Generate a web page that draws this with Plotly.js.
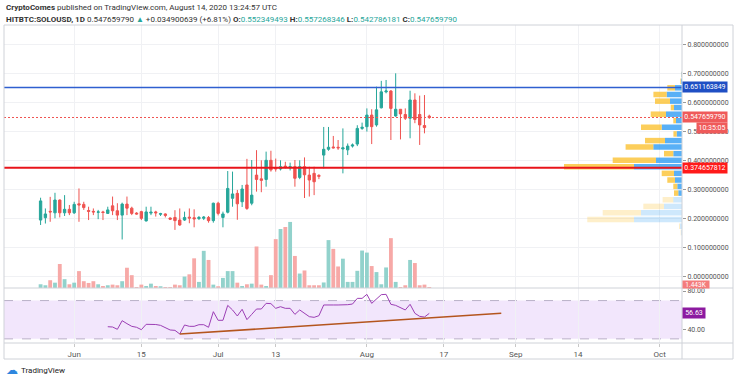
<!DOCTYPE html>
<html><head><meta charset="utf-8">
<script src="https://cdn.plot.ly/plotly-3.0.1.min.js"></script>
<style>html,body{margin:0;padding:0;background:#fff;overflow:hidden}#chart{width:736px;height:380px}</style>
</head><body><div id="chart"></div>
<script>
// ---- data ----
const START_DATE = '2020-05-25';
const openP  = [0.194,0.202,0.224,0.219,0.263,0.219,0.231,0.219,0.250,0.248,0.227,0.224,0.221,0.222,0.217,0.243,0.226,0.211,0.249,0.235,0.218,0.223,0.191,0.218,0.222,0.214,0.215,0.201,0.203,0.194,0.194,0.204,0.202,0.199,0.200,0.203,0.192,0.252,0.203,0.221,0.269,0.286,0.257,0.315,0.252,0.349,0.336,0.334,0.400,0.375,0.370,0.380,0.374,0.378,0.341,0.378,0.349,0.355,0.348,0.418,0.438,0.446,0.445,0.439,0.436,0.449,0.456,0.510,0.516,0.556,0.522,0.581,0.636,0.639,0.553,0.576,0.558,0.545,0.608,0.558,0.520,0.552349493];
const highP  = [0.271,0.234,0.274,0.288,0.265,0.280,0.246,0.257,0.303,0.257,0.240,0.234,0.229,0.226,0.240,0.275,0.252,0.254,0.275,0.240,0.221,0.226,0.240,0.240,0.226,0.219,0.217,0.203,0.228,0.234,0.223,0.234,0.231,0.208,0.208,0.208,0.254,0.257,0.223,0.363,0.361,0.298,0.315,0.405,0.401,0.435,0.400,0.430,0.433,0.406,0.400,0.395,0.392,0.401,0.400,0.410,0.378,0.378,0.352,0.515,0.515,0.484,0.470,0.510,0.458,0.458,0.521,0.530,0.579,0.576,0.654,0.674,0.677,0.642,0.700,0.576,0.579,0.640,0.631,0.623,0.625,0.557268346];
const lowP   = [0.177,0.182,0.188,0.200,0.203,0.208,0.211,0.215,0.188,0.229,0.194,0.211,0.197,0.194,0.215,0.211,0.194,0.127,0.211,0.211,0.213,0.194,0.189,0.211,0.206,0.208,0.203,0.194,0.160,0.174,0.191,0.183,0.169,0.194,0.194,0.185,0.185,0.210,0.169,0.217,0.240,0.195,0.239,0.229,0.245,0.292,0.290,0.309,0.361,0.361,0.365,0.372,0.365,0.309,0.335,0.270,0.275,0.280,0.335,0.372,0.433,0.441,0.436,0.355,0.418,0.444,0.449,0.505,0.499,0.456,0.516,0.579,0.631,0.470,0.550,0.472,0.539,0.476,0.528,0.453,0.493,0.542786181];
const closeP = [0.260,0.215,0.222,0.263,0.219,0.231,0.219,0.248,0.246,0.237,0.224,0.222,0.222,0.220,0.229,0.226,0.211,0.249,0.235,0.217,0.215,0.200,0.222,0.221,0.219,0.216,0.210,0.197,0.192,0.177,0.203,0.201,0.198,0.203,0.204,0.192,0.252,0.217,0.215,0.303,0.284,0.250,0.301,0.234,0.280,0.334,0.331,0.400,0.367,0.370,0.378,0.376,0.378,0.338,0.378,0.350,0.332,0.326,0.345,0.438,0.445,0.443,0.443,0.443,0.449,0.453,0.510,0.514,0.556,0.516,0.574,0.636,0.639,0.579,0.576,0.560,0.545,0.608,0.541,0.522,0.5128,0.547659790];
const volumeK = [5.3,3.9,11.1,7.6,34.2,12.6,5.3,7.6,24.1,9.7,7.2,9.7,5.3,2.9,3.9,4.8,3.9,9.7,28.9,18.3,1.4,4.8,2.9,6.2,2.9,2.5,1.4,1.4,4.8,3.9,16.3,19.5,42.3,8.7,53.0,40.0,4.8,2.5,14.4,24.1,24.1,7.6,2.9,5.3,6.2,59.2,4.8,2.9,18.3,69.7,84.1,87.0,94.2,45.7,20.6,25.0,3.9,3.9,3.9,7.9,68.3,55.8,30.7,41.8,8.7,8.7,24.5,53.4,50.5,31.3,22.7,5.3,29.3,71.1,8.7,1.4,3.9,40.0,35.6,3.9,4.8,1.443];
const RSI_START = '2020-06-08';
const rsiValues = [42.7,42.4,40.0,49.0,45.9,43.1,42.1,39.6,45.2,45.2,45.0,44.1,42.1,39.3,38.9,35.1,44.5,43.1,43.1,44.8,44.8,42.1,58.4,49.4,49.4,65.0,60.2,53.9,60.9,50.1,55.6,61.2,61.2,67.1,66.8,61.9,63.6,61.9,61.9,55.6,60.2,56.7,53.2,52.5,54.2,65.4,65.7,65.4,65.4,65.2,65.7,66.4,72.3,72.3,76.5,67.1,71.6,76.2,76.5,66.1,65.0,62.6,60.2,66.1,56.7,53.5,52.8,56.63];
const rsiTrendDates = ['2020-06-23','2020-08-29'];
const rsiTrendValues = [35.1, 56.7];
const vpPrices = [0.696,0.673,0.650,0.627,0.604,0.582,0.559,0.537,0.514,0.491,0.468,0.446,0.423,0.400,0.378,0.355,0.332,0.310,0.287,0.264,0.241,0.219,0.196,0.173,0.151];
const vpUp     = [0.5,1,7,15.3,12,8,16,6,20.3,5.3,17,28.7,8.7,26,48,8,7,4.7,3.7,8.7,18,41,48,2,0.8];
const vpDown   = [0.3,0.6,7.7,13.3,15,3.3,15.3,2.7,20.7,3.3,20,27.7,9.3,43.3,70,12.3,7.7,4,4.3,10.7,20.7,38.3,46.7,1,0.5];
const vpValueAreaLow = 0.276;
const resistanceLevel = 0.651163849;
const supportLevel = 0.374657812;
const lastPrice = 0.547659790;
const lastVolumeText = '1.443K';
const lastRsiText = '56.63';
const countdownText = '10:35:05';
const xTickDates = ['2020-06-01','2020-06-15','2020-07-01','2020-07-13','2020-08-01','2020-08-17','2020-09-01','2020-09-14','2020-10-01'];
const xTickText  = ['Jun','15','Jul','13','Aug','17','Sep','14','Oct'];
const priceTicks = [0,0.1,0.2,0.3,0.4,0.5,0.6,0.7,0.8];
const rsiTicks = [40,80];

// ---- build ----
function dayStr(start, n){const d=new Date(start+'T00:00:00Z');d.setUTCDate(d.getUTCDate()+n);return d.toISOString().slice(0,10);}
const dates = openP.map((_,i)=>dayStr(START_DATE,i));
const rsiDates = rsiValues.map((_,i)=>dayStr(RSI_START,i));
const GREEN='#26a69a', RED='#ef5350';
const volColors = openP.map((o,i)=> closeP[i]>=o ? '#92d2cc' : '#f7a9a7');
const FONT='Roboto, "Liberation Sans", sans-serif';

const traces = [
 {type:'bar', x:dates, y:volumeK, xaxis:'x', yaxis:'y3', marker:{color:volColors, line:{width:0}}, width:0.8*86400000, hoverinfo:'skip'},
 {type:'bar', orientation:'h', y:vpPrices, x:vpUp, base:0, xaxis:'x2', yaxis:'y', width:0.019,
  marker:{color:vpPrices.map(p=>p<vpValueAreaLow?'rgba(33,150,243,0.22)':'rgba(33,150,243,0.75)'), line:{width:0}}, hoverinfo:'skip'},
 {type:'bar', orientation:'h', y:vpPrices, x:vpDown, base:vpUp, xaxis:'x2', yaxis:'y', width:0.019,
  marker:{color:vpPrices.map(p=>p<vpValueAreaLow?'rgba(251,192,45,0.25)':'rgba(251,192,45,0.78)'), line:{width:0}}, hoverinfo:'skip'},
 {type:'candlestick', x:dates, open:openP, high:highP, low:lowP, close:closeP, xaxis:'x', yaxis:'y',
  increasing:{line:{color:GREEN,width:1}, fillcolor:GREEN}, decreasing:{line:{color:RED,width:1}, fillcolor:RED}, whiskerwidth:0, hoverinfo:'skip'},
 {type:'scatter', mode:'lines', x:rsiDates, y:rsiValues, xaxis:'x', yaxis:'y2', line:{color:'#9c3fb5', width:1}, hoverinfo:'skip'},
 {type:'scatter', mode:'lines', x:rsiTrendDates, y:rsiTrendValues, xaxis:'x', yaxis:'y2', line:{color:'#b4551e', width:1.6}, hoverinfo:'skip'}
];

// pixel helpers for paper coordinates (margins l=4, r=54, t=25, b=37)
const W=736,H=380,ML=4,MR=54,MT=25,MB=37, PW=W-ML-MR, PH=H-MT-MB;
const px=x=>(x-ML)/PW, py=y=>(H-MB-y)/PH;
const paneSplit = py(288);

const shapes = [
 {type:'rect', xref:'paper', x0:0, x1:1, yref:'y2', y0:30, y1:70, fillcolor:'#f2e6fc', line:{width:0}, layer:'below'},
 {type:'line', xref:'paper', x0:0, x1:1, yref:'y2', y0:70, y1:70, line:{color:'#b9b0c8', width:1, dash:'dash'}, layer:'below'},
 {type:'line', xref:'paper', x0:0, x1:1, yref:'y2', y0:30, y1:30, line:{color:'#b9b0c8', width:1, dash:'dash'}, layer:'below'},
 {type:'line', xref:'paper', x0:0, x1:1, yref:'y', y0:lastPrice, y1:lastPrice, line:{color:'#ef5350', width:1, dash:'2px,2px'}},
 {type:'line', xref:'paper', x0:0, x1:1, yref:'y', y0:resistanceLevel, y1:resistanceLevel, line:{color:'#2f5fd0', width:1.5}},
 {type:'line', xref:'paper', x0:0, x1:1, yref:'y', y0:supportLevel, y1:supportLevel, line:{color:'#e8141b', width:2}},
 // frame
 {type:'line', xref:'paper', yref:'paper', x0:px(4), x1:px(733), y0:py(25), y1:py(25), line:{color:'#cfd2d8', width:1}},
 {type:'line', xref:'paper', yref:'paper', x0:px(4), x1:px(733), y0:paneSplit, y1:paneSplit, line:{color:'#cfd2d8', width:1}},
 {type:'line', xref:'paper', yref:'paper', x0:px(4), x1:px(733), y0:py(343), y1:py(343), line:{color:'#cfd2d8', width:1}},
 {type:'line', xref:'paper', yref:'paper', x0:px(4), x1:px(733), y0:py(359), y1:py(359), line:{color:'#cfd2d8', width:1}},
 {type:'line', xref:'paper', yref:'paper', x0:px(4), x1:px(4), y0:py(25), y1:py(359), line:{color:'#cfd2d8', width:1}},
 {type:'line', xref:'paper', yref:'paper', x0:px(682), x1:px(682), y0:py(25), y1:py(359), line:{color:'#cfd2d8', width:1}},
 {type:'line', xref:'paper', yref:'paper', x0:px(733), x1:px(733), y0:py(25), y1:py(359), line:{color:'#cfd2d8', width:1}}
];

const tag=(text,yref,y,bg,w,xoff,h,fs)=>({xref:'paper', x:px(682+(xoff||0)), xanchor:'left', yref:yref, y:y, yanchor:'middle', text:text, showarrow:false,
  bgcolor:bg, font:{family:FONT,size:fs||7,color:'#fff'}, width:w, height:h||8, borderpad:1, align:'center'});
const TEAL='#26a69a';
const annotations = [
 {xref:'paper', yref:'paper', x:0, xanchor:'left', y:py(7), yanchor:'middle', showarrow:false, align:'left',
  font:{family:FONT,size:8,color:'#333'}, text:'<b>CryptoComes</b> published on TradingView.com, August 14, 2020 13:24:57 UTC'},
 {xref:'paper', yref:'paper', x:0, xanchor:'left', y:py(20), yanchor:'middle', showarrow:false, align:'left',
  font:{family:FONT,size:8,color:'#333'}, text:'<b>HITBTC:SOLOUSD, 1D</b> 0.547659790 <span style="color:'+TEAL+'">▲</span> +0.034900639 (+6.81%) <b>O:</b><span style="color:'+TEAL+'">0.552349493</span> <b>H:</b><span style="color:'+TEAL+'">0.557268346</span> <b>L:</b><span style="color:'+TEAL+'">0.542786181</span> <b>C:</b><span style="color:'+TEAL+'">0.547659790</span>'},
 tag(resistanceLevel.toFixed(9),'y',resistanceLevel,'#1f4fc4',42),
 tag(lastPrice.toFixed(9),'y',lastPrice,'#ef5a5a',42),
 tag(countdownText,'paper',py(127.5),'#ef5a5a',28,14),
 tag(supportLevel.toFixed(9),'y',supportLevel,'#ff1a1a',42),
 tag(lastVolumeText,'paper',py(284.3),'#f47c7c',24,0,5,6.5),
 tag(lastRsiText,'y2',lastRsiText*1,'#8c1aa0',20),
 {xref:'paper', yref:'paper', x:px(4), xanchor:'left', y:py(370), yanchor:'middle', showarrow:false,
  font:{family:FONT,size:12,color:'#2e86de'}, text:'☁'},
 {xref:'paper', yref:'paper', x:px(19), xanchor:'left', y:py(370), yanchor:'middle', showarrow:false,
  font:{family:FONT,size:8,color:'#222'}, text:'TradingView'}
];

const layout = {
 width:W, height:H, margin:{l:ML,r:MR,t:MT,b:MB}, paper_bgcolor:'#fff', plot_bgcolor:'#fff',
 showlegend:false, barmode:'overlay', dragmode:false,
 xaxis:{type:'date', domain:[0,1], anchor:'y2', range:['2020-05-17 09:00','2020-10-05 16:00'],
   tickvals:xTickDates, ticktext:xTickText, tickfont:{family:FONT,size:8,color:'#555'},
   ticks:'outside', ticklen:3, tickcolor:'#c8c8c8', showgrid:true, gridcolor:'#f0f1f4', zeroline:false, showline:false,
   rangeslider:{visible:false}, fixedrange:true},
 xaxis2:{overlaying:'x', anchor:'y', range:[PW,0], visible:false, fixedrange:true},
 yaxis:{domain:[paneSplit,1], anchor:'x', side:'right', range:[-0.0403,0.8666], tickvals:priceTicks, ticktext:priceTicks.map(v=>v.toFixed(9)),
   tickfont:{family:FONT,size:7,color:'#555'}, ticks:'outside', ticklen:3, tickcolor:'#999', showgrid:true, gridcolor:'#f0f1f4', zeroline:false, showline:false, fixedrange:true},
 yaxis2:{domain:[0,paneSplit], anchor:'x', side:'right', range:[25.69,83.13], tickvals:rsiTicks, ticktext:rsiTicks.map(v=>v.toFixed(2)),
   tickfont:{family:FONT,size:7,color:'#555'}, ticks:'outside', ticklen:3, tickcolor:'#999', showgrid:false, zeroline:false, showline:false, fixedrange:true},
 yaxis3:{overlaying:'y', anchor:'x', range:[0,375], visible:false, fixedrange:true},
 shapes:shapes, annotations:annotations
};
Plotly.newPlot('chart', traces, layout, {staticPlot:true, displayModeBar:false});
</script></body></html>
